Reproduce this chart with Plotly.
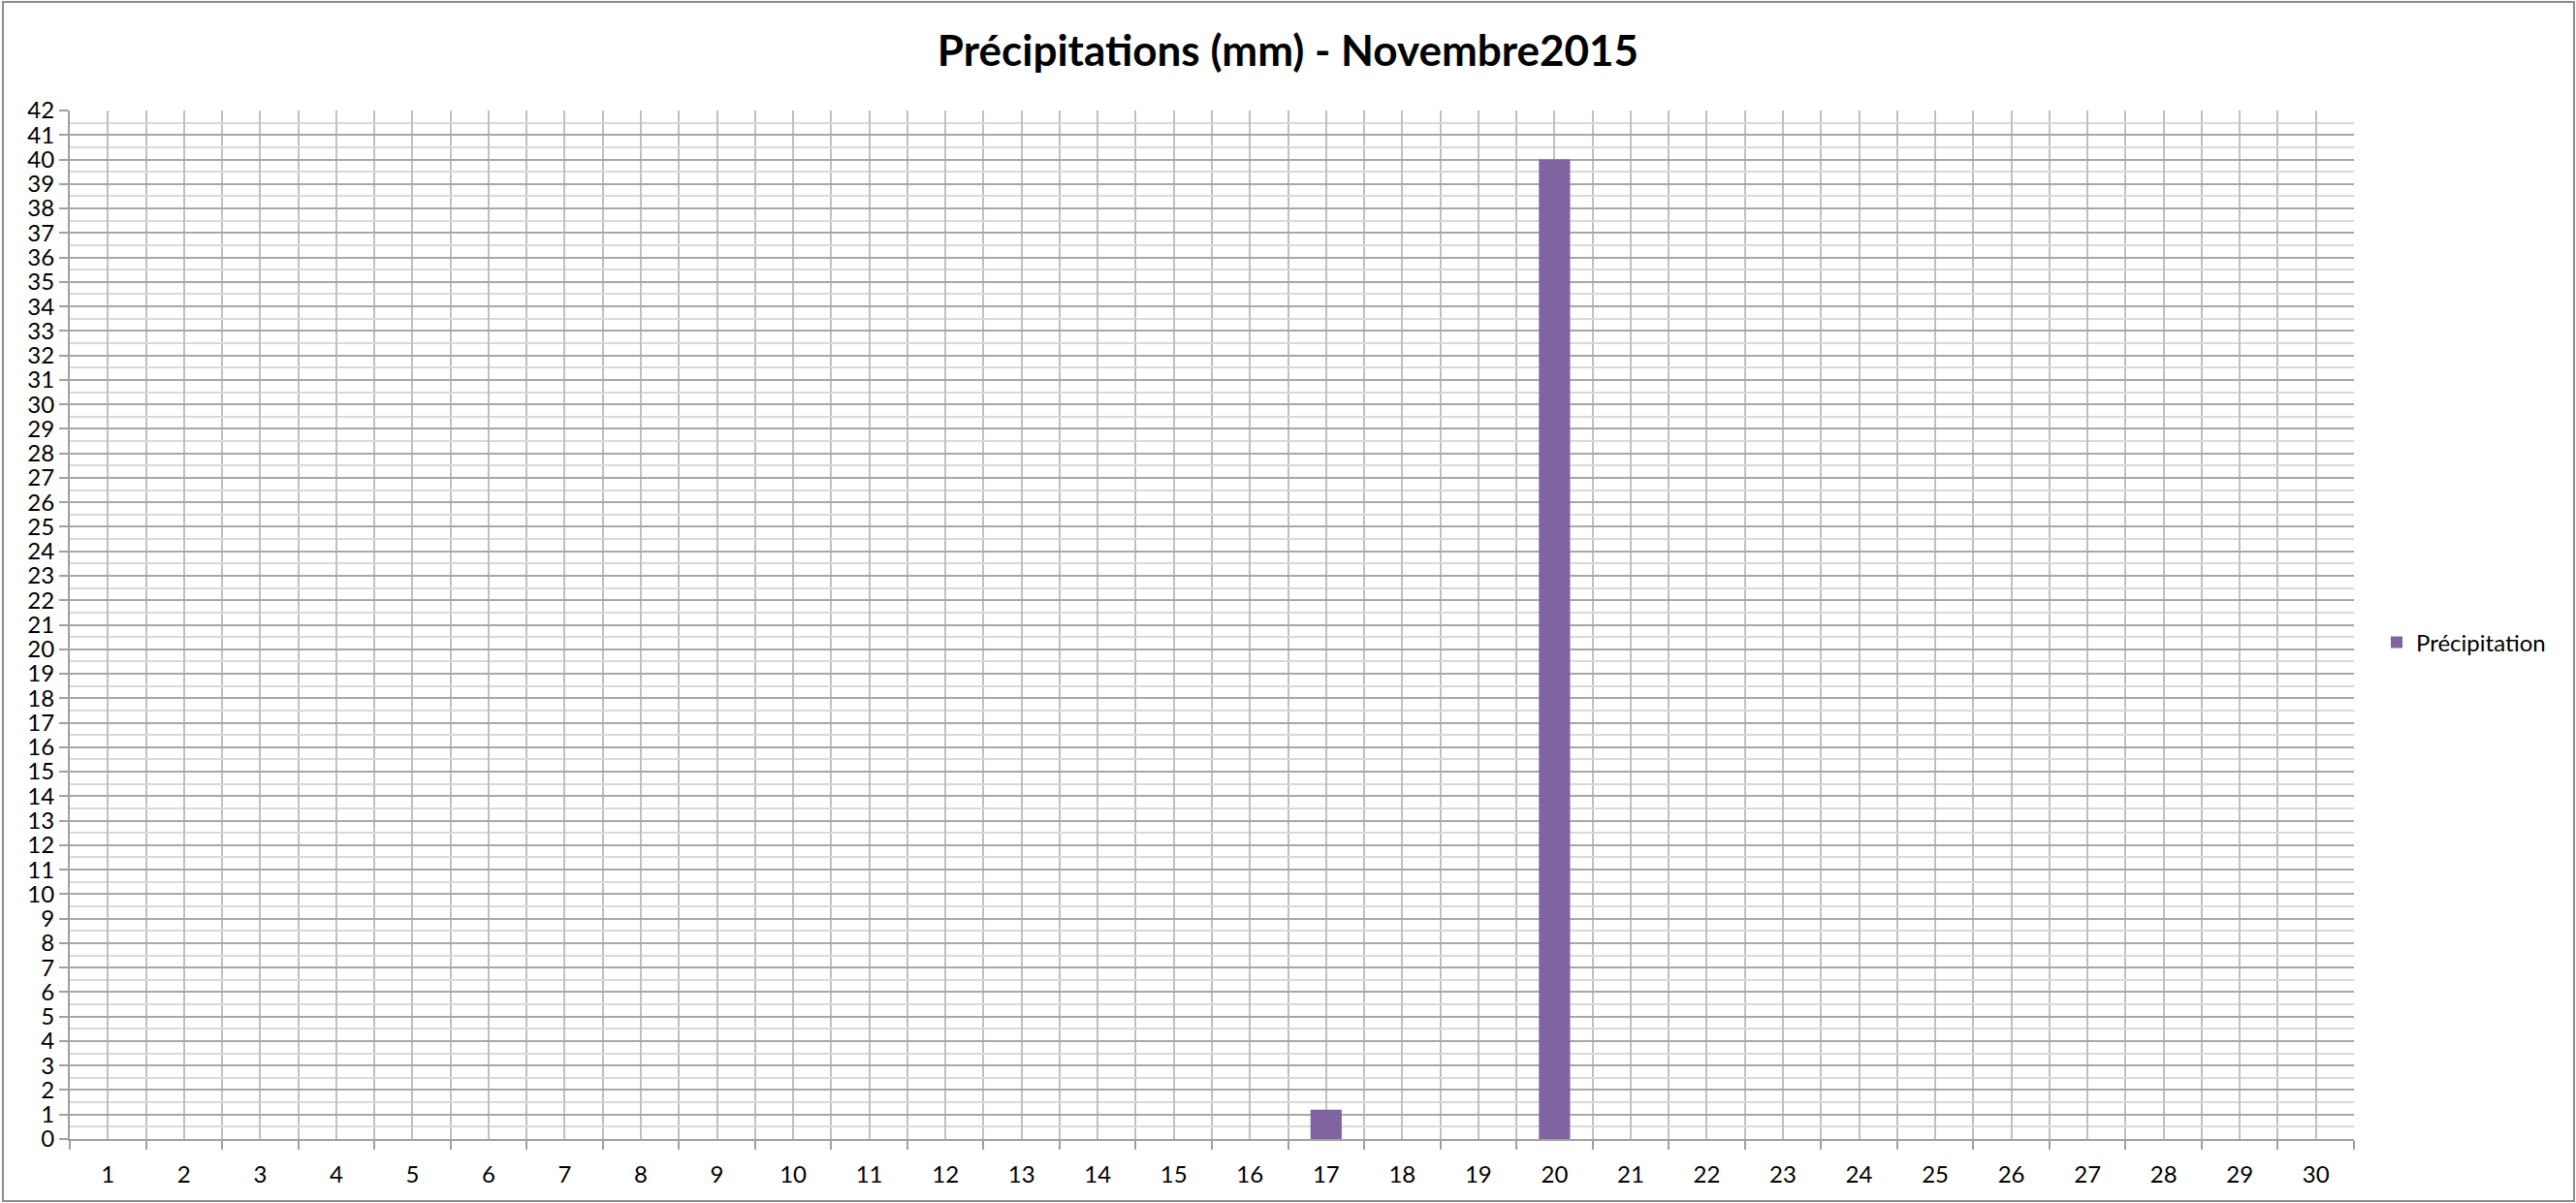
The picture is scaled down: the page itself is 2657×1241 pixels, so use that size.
import plotly.graph_objects as go

days = list(range(1, 31))
precip = [0, 0, 0, 0, 0, 0, 0, 0, 0, 0,
          0, 0, 0, 0, 0, 0, 1.2, 0, 0, 40,
          0, 0, 0, 0, 0, 0, 0, 0, 0, 0]
series_name = "Précipitation"
title_text = "Précipitations (mm) - Novembre2015"

W, H = 2657, 1241
L, R, T, B = 72, 229, 114, 66
FONT = "Lato, Open Sans, sans-serif"

fig = go.Figure()
fig.add_trace(go.Bar(x=days, y=precip, name=series_name,
                     marker=dict(color="#8064A2", line=dict(width=0)),
                     showlegend=True))

pw = W - L - R
ph = H - T - B

fig.update_layout(
    width=W, height=H,
    margin=dict(l=L, r=R, t=T, b=B, autoexpand=False),
    paper_bgcolor="white", plot_bgcolor="white",
    bargap=0.59,
    font=dict(family=FONT, color="#000000"),
    title=dict(text="<b>" + title_text + "</b>", x=0.5, xref="container",
               xanchor="center", y=1 - 53 / H, yanchor="middle",
               font=dict(family=FONT, size=44, color="#000000")),
    legend=dict(x=(2452 - L) / pw, y=(1175 - 663) / ph,
                xanchor="left", yanchor="middle",
                font=dict(family=FONT, size=24, color="#000000"),
                bgcolor="rgba(0,0,0,0)"),
    xaxis=dict(range=[0.5, 30.5], tickvals=days, ticktext=[str(d) for d in days],
               showgrid=True, gridcolor="#c0c0c0", gridwidth=2,
               ticks="", ticklabelstandoff=14,
               tickfont=dict(family=FONT, size=24, color="#000000"),
               showline=True, linecolor="#a0a0a0", linewidth=2,
               zeroline=False,
               minor=dict(tick0=0.5, dtick=1, showgrid=True, gridcolor="#c0c0c0",
                          gridwidth=2, ticks="outside", ticklen=9, tickcolor="#a0a0a0",
                          tickwidth=2)),
    yaxis=dict(range=[0, 42], dtick=1, tick0=0,
               showgrid=True, gridcolor="#a8a8a8", gridwidth=2,
               ticks="outside", ticklen=9, tickcolor="#a0a0a0", tickwidth=2,
               tickfont=dict(family=FONT, size=24, color="#000000"),
               showline=True, linecolor="#a0a0a0", linewidth=2,
               zeroline=False,
               minor=dict(dtick=0.5, showgrid=True, gridcolor="#d9d9d9", gridwidth=2)),
)

# chart outer border
fig.add_shape(type="rect", xref="paper", yref="paper",
              x0=-(L - 3) / pw, x1=1 + (R - 2) / pw,
              y0=-(B - 2) / ph, y1=1 + (T - 2) / ph,
              line=dict(color="#8c8c8c", width=2), fillcolor="rgba(0,0,0,0)",
              layer="above")

fig.write_html("out.html", config={"displayModeBar": False},
               post_script="document.body.style.margin='0';")
